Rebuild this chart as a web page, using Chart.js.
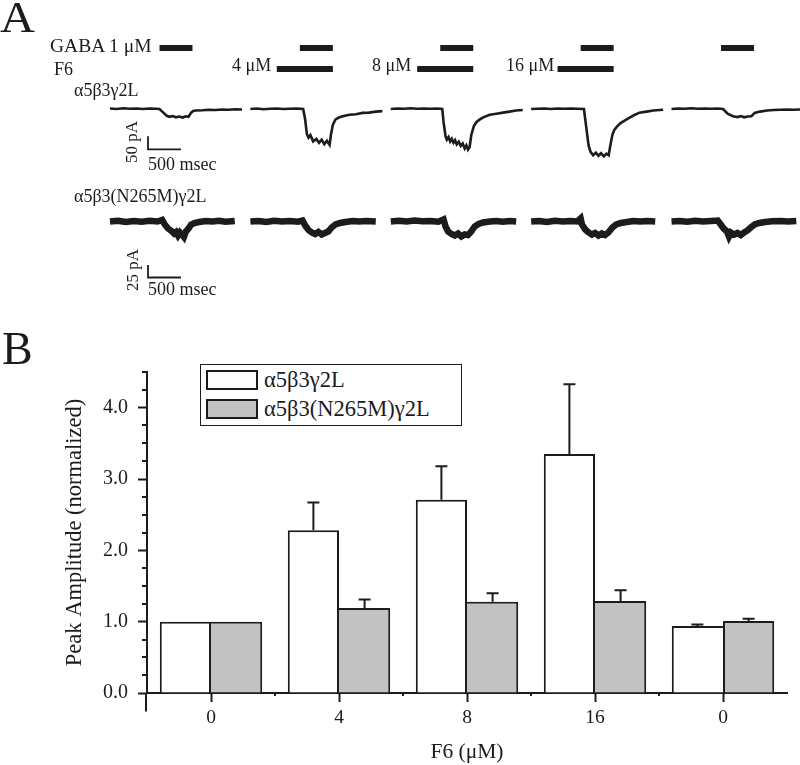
<!DOCTYPE html>
<html>
<head>
<meta charset="utf-8">
<script src="https://cdn.jsdelivr.net/npm/chart.js@4.4.0/dist/chart.umd.min.js"></script>
<style>
  html, body { margin: 0; padding: 0; background: #fff; }
  #page { position: relative; width: 800px; height: 765px; overflow: hidden;
          font-family: "Liberation Serif", "Times New Roman", serif; color: #1c1c1c; }
  #traces { position: absolute; left: 0; top: 0; }
  #bars { position: absolute; left: 0; top: 330px; }
  .t { position: absolute; white-space: nowrap; line-height: 1; }
  .rot { position: absolute; white-space: nowrap; line-height: 1; transform: translate(-50%, -50%) rotate(-90deg); }
  #legend { position: absolute; left: 200px; top: 364px; width: 262px; height: 62px;
            box-sizing: border-box; border: 1.5px solid #1c1c1c; background: #fff; }
  #legend .item { position: absolute; left: 5px; height: 20px; display: flex; align-items: center; }
  #legend .sw { width: 52px; height: 20px; box-sizing: border-box; border: 2px solid #1c1c1c; }
  #legend .lbl { margin-left: 6px; font-size: 22.5px; line-height: 1; }
</style>
</head>
<body>
<div id="page">
  <canvas id="traces" width="800" height="310"></canvas>
  <canvas id="bars" width="800" height="435"></canvas>

  <div class="t" style="left:0px; top:-4px; font-size:44px; transform-origin:0 0; transform:scaleX(1.1);">A</div>
  <div class="t" style="left:50px; top:36px; font-size:19.5px;">GABA 1 μM</div>
  <div class="t" style="left:54px; top:60px; font-size:18px;">F6</div>
  <div class="t" style="left:232px; top:56px; font-size:18px;">4 μM</div>
  <div class="t" style="left:372px; top:56px; font-size:18px;">8 μM</div>
  <div class="t" style="left:506px; top:56px; font-size:18px;">16 μM</div>
  <div class="t" style="left:74px; top:81px; font-size:18px;">α5β3γ2L</div>
  <div class="rot" style="left:131px; top:142px; font-size:17px;">50 pA</div>
  <div class="t" style="left:148px; top:155px; font-size:18px;">500 msec</div>
  <div class="t" style="left:74px; top:187px; font-size:18px;">α5β3(N265M)γ2L</div>
  <div class="rot" style="left:132px; top:270px; font-size:17px;">25 pA</div>
  <div class="t" style="left:148px; top:280px; font-size:18px;">500 msec</div>

  <div class="t" style="left:2px; top:326px; font-size:46px;">B</div>
  <div id="legend"></div>
</div>

<script>
// ---------- panel A: example currents (ms, pA) ----------
const sweepDoses = ['', '4 μM', '8 μM', '16 μM', ''];
const gabaWindow = [750, 1250];   // GABA 1 μM application, ms
const f6Window = [400, 1250];     // F6 pre/co-application, ms

const wt0 = [[0,2],[100,0],[200,3],[300,1],[400,2],[500,0],[600,2],[700,1],[750,0],[800,-12],[860,-26],[900,-30],[950,-27],[1000,-32],[1050,-29],[1100,-33],[1150,-28],[1190,-30],[1230,-14],[1260,-8],[1300,-6],[1400,-5],[1500,-3],[1600,-4],[1700,-2],[1800,-3],[1900,-1],[2000,-2]];
const wt4 = [[0,0],[100,2],[200,-1],[300,1],[400,2],[500,0],[600,1],[700,2],[800,0],[830,-40],[855,-95],[880,-110],[910,-100],[950,-125],[1000,-115],[1040,-130],[1080,-118],[1120,-135],[1160,-122],[1200,-138],[1220,-100],[1250,-60],[1290,-40],[1350,-32],[1400,-28],[1450,-25],[1500,-22],[1600,-20],[1700,-15],[1800,-14],[1900,-10],[2000,-8]];
const wt8 = [[0,0],[100,2],[200,1],[300,3],[400,1],[500,2],[600,1],[700,2],[780,0],[800,-50],[830,-105],[850,-118],[875,-108],[900,-125],[925,-115],[950,-130],[975,-120],[1000,-136],[1030,-126],[1060,-142],[1090,-133],[1120,-152],[1145,-140],[1170,-156],[1195,-146],[1220,-100],[1260,-65],[1300,-50],[1350,-40],[1400,-32],[1500,-22],[1600,-18],[1700,-14],[1800,-10],[1900,-6],[2000,-4]];
const wt16 = [[0,0],[100,1],[200,2],[300,0],[400,2],[500,1],[600,2],[700,1],[800,0],[830,-60],[870,-140],[900,-165],[940,-178],[980,-168],[1020,-180],[1060,-170],[1100,-182],[1140,-172],[1175,-178],[1200,-140],[1230,-100],[1260,-80],[1300,-68],[1350,-55],[1440,-41],[1500,-32],[1550,-25],[1640,-14],[1750,-10],[1850,-6],[2000,-3]];
const wtWash = [[0,0],[100,2],[200,1],[300,3],[400,1],[500,2],[600,1],[700,2],[780,0],[850,-18],[930,-28],[1000,-31],[1050,-27],[1100,-32],[1150,-29],[1210,-28],[1260,-15],[1340,-10],[1450,-6],[1550,-4],[1650,-3],[1750,-2],[1850,-3],[1950,-2]];

const mut0 = [[0,0],[120,1.5],[240,-1],[360,1],[480,-0.5],[600,1.5],[720,0],[790,3],[830,-6],[880,-14],[930,-19],[970,-24],[1000,-21],[1030,-28],[1060,-22],[1090,-26],[1120,-31],[1150,-20],[1190,-14],[1230,-6],[1280,-3],[1350,-1],[1450,1],[1550,0],[1650,1.5],[1750,-0.5],[1890,1]];
const mut4 = [[0,0],[120,1],[240,-1],[360,1.5],[480,0],[600,1],[720,-0.5],[790,2],[830,-8],[880,-17],[930,-22],[980,-25],[1030,-21],[1080,-26],[1130,-23],[1180,-20],[1230,-12],[1290,-6],[1360,-3],[1440,-1],[1550,1],[1650,0],[1760,1],[1900,0]];
const mut8 = [[0,0],[120,1.5],[240,0],[360,2],[480,0.5],[600,1],[720,-0.5],[800,4],[830,-10],[870,-20],[920,-25],[970,-28],[1020,-24],[1070,-30],[1120,-26],[1170,-27],[1220,-20],[1270,-10],[1330,-5],[1400,-2],[1500,0],[1600,1],[1700,-0.5],[1800,1],[1900,0]];
const mut16 = [[0,0],[120,1],[240,-1],[360,1.5],[480,0],[600,1],[700,0],[750,6],[770,-6],[820,-16],[870,-22],[920,-26],[970,-23],[1020,-28],[1070,-24],[1120,-27],[1170,-22],[1230,-12],[1290,-6],[1360,-3],[1450,-1],[1550,1],[1650,0],[1760,1],[1880,0]];
const mutWash = [[0,0],[120,1],[240,-0.5],[360,1.5],[480,0],[600,1],[700,2],[740,-5],[790,-14],[840,-20],[870,-30],[900,-22],[950,-26],[1000,-23],[1050,-27],[1100,-22],[1150,-18],[1200,-12],[1260,-6],[1330,-3],[1420,-1],[1520,0.5],[1650,1],[1770,0],[1890,1]];

const wtScaleBar = { ms: 500, pA: 50 };
const mutScaleBar = { ms: 500, pA: 25 };

// ---------- panel B: normalized peak amplitude ----------
const doses = ['0', '4', '8', '16', '0'];
const wtMean = [1.00, 2.28, 2.71, 3.35, 0.94];
const wtErr = [0, 0.39, 0.47, 0.98, 0.02];
const mutMean = [1.00, 1.19, 1.28, 1.29, 1.01];
const mutErr = [0, 0.12, 0.12, 0.15, 0.03];

const BLACK = '#1c1c1c';
const GRAY = '#c2c2c2';
Chart.defaults.font.family = '"Liberation Serif", "Times New Roman", serif';
Chart.defaults.color = BLACK;

// ---- panel A layout: one hidden linear x axis (ms), one hidden y axis per row
const A_HEIGHT = 310;
const MS_TO_PX = 0.066;
const SWEEP_GAP = 2127;              // ms between sweep starts on the page
const X_MIN = -110 / MS_TO_PX;
const X_MAX = X_MIN + 800 / MS_TO_PX;
function rowRange(basePx, pxPerUnit) {
    const max = basePx / pxPerUnit;
    return { min: max - A_HEIGHT / pxPerUnit, max: max };
}

const sweep = (pts, k) => pts.map(([t, v]) => ({ x: t + k * SWEEP_GAP, y: v }));
const line = (data, axis, width) => ({
    data: data, yAxisID: axis, borderColor: BLACK, borderWidth: width,
    pointRadius: 0, tension: 0, fill: false, borderCapStyle: 'butt', borderJoinStyle: 'miter'
});

const traceSets = [];
[wt0, wt4, wt8, wt16, wtWash].forEach((pts, k) => traceSets.push(line(sweep(pts, k), 'y1', 2.6)));
[mut0, mut4, mut8, mut16, mutWash].forEach((pts, k) => traceSets.push(line(sweep(pts, k), 'y2', 6.5)));

// application bars: GABA on level 1, F6 on level 0
sweepDoses.forEach((dose, k) => {
    traceSets.push(line(sweep([[gabaWindow[0], 1], [gabaWindow[1], 1]], k), 'yApp', 6));
    if (dose) traceSets.push(line(sweep([[f6Window[0], 0], [f6Window[1], 0]], k), 'yApp', 6));
});

// calibration bars (corner position is layout)
function calib(bar, t0, v0, axis) {
    return line([{ x: t0, y: v0 + bar.pA }, { x: t0, y: v0 }, { x: t0 + bar.ms, y: v0 }], axis, 1.8);
}
traceSets.push(calib(wtScaleBar, 576, -155, 'y1'));
traceSets.push(calib(mutScaleBar, 576, -112, 'y2'));

new Chart(document.getElementById('traces'), {
    type: 'line',
    data: { datasets: traceSets },
    options: {
        responsive: false,
        animation: false,
        events: [],
        layout: { padding: 0 },
        plugins: { legend: { display: false }, tooltip: { enabled: false } },
        scales: {
            x: { type: 'linear', display: false, min: X_MIN, max: X_MAX },
            y1: Object.assign({ type: 'linear', display: false }, rowRange(109, 0.26)),
            y2: Object.assign({ type: 'linear', display: false }, rowRange(221.5, 0.5)),
            yApp: Object.assign({ type: 'linear', display: false }, rowRange(69, 21))
        }
    }
});

// ---- panel B
const isWhole = v => Math.abs(v - Math.round(v)) < 1e-6;

const errorBars = {
    id: 'errorBars',
    afterDatasetsDraw(chart) {
        const ctx = chart.ctx;
        const y = chart.scales.y;
        chart.data.datasets.forEach((ds, di) => {
            chart.getDatasetMeta(di).data.forEach((bar, i) => {
                const err = ds.errors[i];
                if (!err) return;
                const top = y.getPixelForValue(ds.data[i] + err);
                ctx.save();
                ctx.strokeStyle = BLACK;
                ctx.lineWidth = 2;
                ctx.beginPath();
                ctx.moveTo(bar.x, bar.y);
                ctx.lineTo(bar.x, top);
                ctx.moveTo(bar.x - 6, top);
                ctx.lineTo(bar.x + 6, top);
                ctx.stroke();
                ctx.restore();
            });
        });
    }
};

// minor y ticks, small x ticks between groups, y axis running below zero
const axisExtras = {
    id: 'axisExtras',
    afterDraw(chart) {
        const ctx = chart.ctx;
        const { x, y } = chart.scales;
        const area = chart.chartArea;
        ctx.save();
        ctx.strokeStyle = BLACK;
        ctx.lineWidth = 2;
        ctx.beginPath();
        y.ticks.forEach(t => {
            if (isWhole(t.value)) return;
            const py = Math.round(y.getPixelForValue(t.value));
            ctx.moveTo(area.left - 5, py);
            ctx.lineTo(area.left, py);
        });
        for (let i = 0; i < doses.length - 1; i++) {
            const px = (x.getPixelForValue(i) + x.getPixelForValue(i + 1)) / 2;
            ctx.moveTo(px, area.bottom);
            ctx.lineTo(px, area.bottom + 3);
        }
        ctx.moveTo(area.left - 1, area.bottom);
        ctx.lineTo(area.left - 1, y.getPixelForValue(-0.26));
        ctx.stroke();
        ctx.restore();
    }
};

const wtTaller = i => wtMean[i] >= mutMean[i];
const seriesB = [
    { label: 'α5β3γ2L', data: wtMean, errors: wtErr, backgroundColor: '#ffffff',
      borderWidth: c => ({ top: 2, left: 2, right: wtTaller(c.dataIndex) ? 2 : 0, bottom: 0 }) },
    { label: 'α5β3(N265M)γ2L', data: mutMean, errors: mutErr, backgroundColor: GRAY,
      borderWidth: c => ({ top: 2, left: wtTaller(c.dataIndex) ? 0 : 2, right: 2, bottom: 0 }) }
];

new Chart(document.getElementById('bars'), {
    type: 'bar',
    data: {
        labels: doses,
        datasets: seriesB.map(s => Object.assign({
            borderColor: BLACK, borderSkipped: 'start',
            categoryPercentage: 0.8, barPercentage: 1.0
        }, s))
    },
    options: {
        responsive: false,
        animation: false,
        events: [],
        layout: { padding: { top: 42, right: 13, left: 0, bottom: 0 } },
        plugins: { legend: { display: false }, tooltip: { enabled: false } },
        scales: {
            x: {
                grid: { drawOnChartArea: false, offset: false, tickLength: 9, tickWidth: 2, tickColor: BLACK },
                border: { display: true, color: BLACK, width: 2 },
                ticks: { font: { size: 19.5 }, color: BLACK, padding: 4, maxRotation: 0 },
                title: { display: true, text: 'F6 (μM)', font: { size: 21.5 }, color: BLACK, padding: { top: 2, bottom: 0 } },
                afterFit: s => { s.height = 72; }
            },
            y: {
                min: 0, max: 4.5,
                grid: { drawOnChartArea: false, tickLength: 9, tickWidth: 2,
                        tickColor: c => (c.tick && isWhole(c.tick.value)) ? BLACK : 'rgba(0,0,0,0)' },
                border: { display: true, color: BLACK, width: 2 },
                ticks: { stepSize: 0.25, autoSkip: false, padding: 10, font: { size: 20 }, color: BLACK,
                         callback: v => isWhole(v) ? v.toFixed(1) : '' },
                title: { display: true, text: 'Peak Amplitude (normalized)', font: { size: 22.5 }, color: BLACK,
                         padding: { top: 62, bottom: 0 } },
                afterFit: s => { s.width = 147; }
            }
        }
    },
    plugins: [errorBars, axisExtras]
});

// legend box inside panel B
const legendEl = document.getElementById('legend');
seriesB.forEach((s, i) => {
    const item = document.createElement('div');
    item.className = 'item';
    item.style.top = (i === 0 ? 5 : 33.8) + 'px';
    item.innerHTML = '<span class="sw" style="background:' + s.backgroundColor + '"></span><span class="lbl">' + s.label + '</span>';
    legendEl.appendChild(item);
});
</script>
</body>
</html>
